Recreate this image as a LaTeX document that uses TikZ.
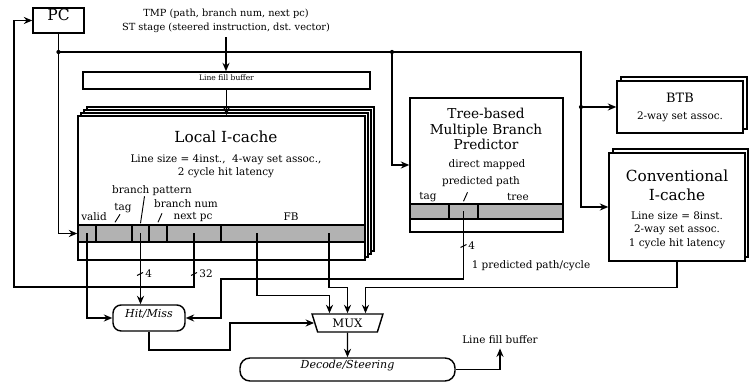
\documentclass[tikz,border=0pt]{standalone}
\usepackage{fontspec}
\setmainfont{DejaVu Serif}
\usepackage{tikz}
\usetikzlibrary{arrows.meta}
\usetikzlibrary{shapes,shapes.geometric}
\usetikzlibrary{fit,calc}
\tikzset{>={Stealth[length=2.4mm,width=2mm]}}
\tikzset{
  every node/.style={font=\fontsize{8.4}{10.6}\selectfont},
  wire/.style={line width=1.15pt},
  box/.style={draw, line width=1.15pt, fill=white, inner sep=0pt},
  field/.style={draw, line width=1.15pt, fill=black!30, inner sep=0pt},
  stage/.style={draw, line width=1.15pt, rounded corners=2.3mm, inner sep=0pt, font=\fontsize{8.9}{10.6}\selectfont\itshape},
  leader/.style={line width=0.75pt},
}

\begin{document}
\begin{tikzpicture}[x=0.0283cm, y=-0.0283cm]
        \useasboundingbox (0,0) rectangle (749,383);

        % PC, TMP input, line fill buffer
        \node[box, fit={(33,8) (84,33)}, font=\fontsize{12.5}{14}\selectfont] (pc) {PC};
        \node[align=center, font=\fontsize{7.9}{11.2}\selectfont] (tmp) at (226,21) {TMP (path, branch num, next pc)\\ST stage (steered instruction, dst.\ vector)};
        \node[box, fit={(83,72) (370,89)}, font=\fontsize{6.1}{7}\selectfont] (lfb) {Line fill buffer};

        % Local I-cache
        \draw[box] (87,107) rectangle (374,251);
        \draw[box] (84,110) rectangle (371,254);
        \draw[box] (81,113) rectangle (368,257);
        \node[box, fit={(78,116) (365,260)}] (lic) {};
        \node[font=\fontsize{12.3}{14}\selectfont] (licname) at (226,137) {Local I-cache};
        \node[align=center, font=\fontsize{8.4}{10.4}\selectfont] (licinfo) at (226,166) {Line size = 4inst.,\ \ 4-way set assoc.,\\2 cycle hit latency};
        \node[field, fit={(78,225) (96,242)}] (valid) {};
        \node[field, fit={(96,225) (132,242)}] (tag) {};
        \node[field, fit={(132,225) (149,242)}] (bpat) {};
        \node[field, fit={(149,225) (167,242)}] (bnum) {};
        \node[field, fit={(167,225) (221,242)}] (npc) {};
        \node[field, fit={(221,225) (365,242)}] (fb) {};
        \node (lvalid) at (94,217) {valid};
        \node (ltag) at (123,208) {tag};
        \node (lbpat) at (152,191) {branch pattern};
        \node (lbnum) at (186,204) {branch num};
        \node (lnpc) at (193,217) {next pc};
        \node (lfbf) at (291,217) {FB};
        \draw[leader] (tag.north) ++(1,-2) -- ++(5,-8);
        \draw[leader] (bpat.north) ++(0,-1) -- ++(4,-27);
        \draw[leader] (bnum.north) ++(0,-2) -- ++(4,-9);

        % Tree-based predictor
        \node[box, fit={(410,98) (563,232)}] (tmbp) {};
        \node[font=\fontsize{11}{12.8}\selectfont, align=center] (tmbpname) at (486,129) {Tree-based\\Multiple Branch\\Predictor};
        \node (tmbpinfo) at (487,165) {direct mapped};
        \node[field, fit={(410,204) (449,219)}] (ptag) {};
        \node[field, fit={(449,204) (478,219)}] (ppath) {};
        \node[field, fit={(478,204) (563,219)}] (ptree) {};
        \node (lppath) at (481,182) {predicted path};
        \node (lptag) at (428,197) {tag};
        \node (lptree) at (518,197) {tree};
        \draw[leader] (ppath.north) ++(0,-2) -- ++(4,-9);

        % BTB
        \draw[box] (621,77) rectangle (747,129);
        \node[box, fit={(617,81) (743,133)}] (btb) {};
        \node[font=\fontsize{10.4}{12}\selectfont] (btbname) at (680,98) {BTB};
        \node (btbinfo) at (680,117) {2-way set assoc.};

        % Conventional I-cache
        \draw[box] (613,149) rectangle (748,257);
        \node[box, fit={(609,153) (745,261)}] (conv) {};
        \node[font=\fontsize{12.3}{15.2}\selectfont, align=center] (convname) at (677,185) {Conventional\\I-cache};
        \node[align=center, font=\fontsize{8.4}{10.8}\selectfont] (convinfo) at (677,230) {Line size = 8inst.\\ 2-way set assoc.\\1 cycle hit latency};

        % Hit/Miss, MUX, Decode/Steering
        \node[stage, fit={(113,305) (185,331)}] (hm) {Hit/Miss};
        \node[draw, line width=1.15pt, trapezium, shape border rotate=180, trapezium angle=72,
              trapezium stretches=true, minimum width=2.01cm, minimum height=0.51cm, inner sep=0pt,
              font=\fontsize{9.4}{11}\selectfont] (mux) at (347.5,323) {MUX};
        \node[stage, rounded corners=2.8mm, fit={(240,358) (455,381)}] (dec) {Decode/Steering};
        \node (lfbout) at (500,340) {Line fill buffer};
        \node (ppc) at (531,266) {1 predicted path/cycle};

        % PC bus
        \coordinate (j1) at (58.5,52);
        \coordinate (j2) at (392,52);
        \coordinate (j3) at (581,107);
        \draw[wire] (pc) -- (j1);
        \draw[wire, ->] (j1) |- (valid);
        \draw[wire] (j1) -| (j3);
        \draw[wire, ->] (j3) -- (btb);
        \draw[wire, ->] (j3) |- (conv);
        \draw[wire, ->] (j2) |- (tmbp);
        \fill (j1) circle (1.7pt);
        \fill (j2) circle (1.7pt);
        \fill (j3) circle (1.7pt);
        \draw[wire, ->] (tmp.south) -- (tmp.south |- lfb.north);
        \draw[wire, ->] (lfb.south) -- (lfb.south |- lic.north);

        % next pc loop
        \coordinate (lp) at (14,287);
        \draw[wire, ->] (npc.center) |- (lp) |- (pc);

        % Hit/Miss inputs
        \coordinate (pj) at (221,279);
        \draw[wire, ->] (valid.center) |- (hm);
        \draw[wire, ->] (bpat.center) -- (bpat.center |- hm.north);
        \draw[wire, ->] (ppath.center) |- (pj) |- (hm);

        % MUX inputs
        \coordinate (fb1) at (257,233.5);
        \coordinate (fb2) at (329,233.5);
        \coordinate (hj) at (230,350);
        \draw[wire, ->] (fb1) |- ($(mux.north)+(-18,-18)$) -- ($(mux.north)+(-18,0)$);
        \draw[wire, ->] (fb2) |- ($(mux.north)+(0,-26)$) -- (mux.north);
        \draw[wire, ->] (conv.south) |- ($(mux.north)+(18,-26)$) -- ($(mux.north)+(18,0)$);
        \draw[wire, ->] (hm) |- (hj) |- (mux);
        \draw[wire, ->] (mux) -- (dec);
        \draw[wire, ->] (dec) -| (lfbout);

        % bus widths
        \draw[leader] (137,275.5) -- (143,272.5);
        \node[anchor=west, inner sep=1pt] (w4a) at (144,274) {4};
        \draw[leader] (191,275.5) -- (197,272.5);
        \node[anchor=west, inner sep=1pt] (w32) at (198,274) {32};
        \draw[leader] (460.5,247.5) -- (466.5,244.5);
        \node[anchor=west, inner sep=1pt] (w4b) at (467,246) {4};
\end{tikzpicture}
\end{document}
